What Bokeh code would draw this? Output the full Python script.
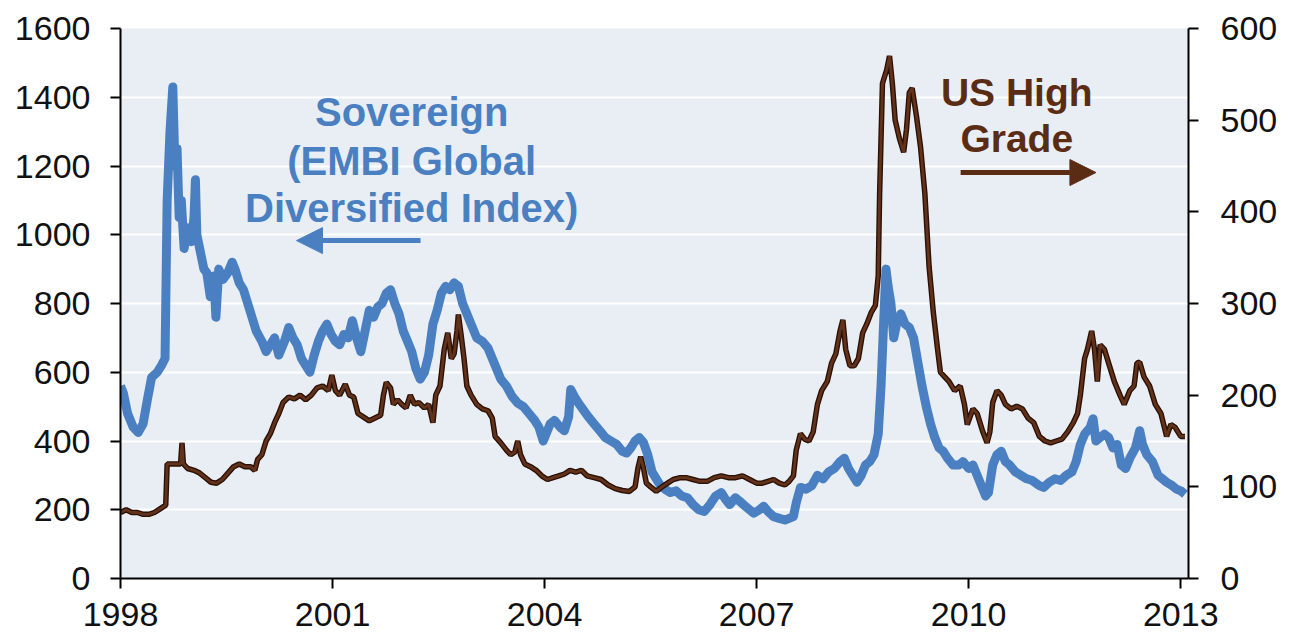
from bokeh.plotting import figure
from bokeh.models import Range1d, LinearAxis, FixedTicker, Label, Arrow, NormalHead, ColumnDataSource
from bokeh.embed import file_html
from bokeh.resources import INLINE

# ---------------- data ----------------
sov_years = [1998.00, 1998.04, 1998.10, 1998.18, 1998.25, 1998.32, 1998.38, 1998.44, 1998.52, 1998.58,
             1998.63, 1998.66, 1998.70, 1998.74, 1998.77, 1998.80, 1998.83, 1998.86, 1998.90, 1998.95,
             1999.00, 1999.04, 1999.06, 1999.08, 1999.12, 1999.18, 1999.22, 1999.27, 1999.32, 1999.35,
             1999.39, 1999.45, 1999.52, 1999.58, 1999.62, 1999.68, 1999.74, 1999.80, 1999.86, 1999.92,
             2000.00, 2000.06, 2000.12, 2000.18, 2000.24, 2000.32, 2000.38, 2000.44, 2000.50, 2000.56,
             2000.62, 2000.68, 2000.74, 2000.80, 2000.86, 2000.92, 2000.98, 2001.04, 2001.10, 2001.16,
             2001.22, 2001.28, 2001.34, 2001.40, 2001.46, 2001.52, 2001.58, 2001.64, 2001.70, 2001.76,
             2001.82, 2001.88, 2001.94, 2002.00, 2002.06, 2002.12, 2002.18, 2002.24, 2002.30, 2002.36,
             2002.42, 2002.48, 2002.54, 2002.60, 2002.66, 2002.72, 2002.78, 2002.84, 2002.90, 2002.96,
             2003.04, 2003.12, 2003.20, 2003.26, 2003.32, 2003.38, 2003.46, 2003.54, 2003.62, 2003.70,
             2003.78, 2003.86, 2003.92, 2003.98, 2004.02, 2004.08, 2004.14, 2004.22, 2004.28, 2004.34,
             2004.37, 2004.42, 2004.48, 2004.55, 2004.62, 2004.70, 2004.78, 2004.86, 2004.94, 2005.02,
             2005.10, 2005.16, 2005.22, 2005.28, 2005.34, 2005.40, 2005.46, 2005.52, 2005.58, 2005.64,
             2005.70, 2005.78, 2005.86, 2005.94, 2006.02, 2006.10, 2006.18, 2006.26, 2006.34, 2006.42,
             2006.50, 2006.56, 2006.62, 2006.70, 2006.76, 2006.84, 2006.90, 2006.96, 2007.04, 2007.10,
             2007.16, 2007.24, 2007.32, 2007.40, 2007.46, 2007.52, 2007.56, 2007.62, 2007.70, 2007.78,
             2007.86, 2007.94, 2008.02, 2008.10, 2008.18, 2008.24, 2008.30, 2008.36, 2008.42, 2008.48,
             2008.54, 2008.60, 2008.66, 2008.72, 2008.76, 2008.80, 2008.83, 2008.86, 2008.90, 2008.94,
             2008.98, 2009.04, 2009.10, 2009.16, 2009.22, 2009.28, 2009.34, 2009.40, 2009.46, 2009.52,
             2009.58, 2009.64, 2009.70, 2009.78, 2009.86, 2009.92, 2010.00, 2010.06, 2010.12, 2010.18,
             2010.24, 2010.28, 2010.34, 2010.40, 2010.46, 2010.52, 2010.58, 2010.66, 2010.74, 2010.82,
             2010.90, 2011.00, 2011.06, 2011.14, 2011.22, 2011.30, 2011.38, 2011.46, 2011.52, 2011.58,
             2011.64, 2011.72, 2011.76, 2011.80, 2011.86, 2011.92, 2011.98, 2012.04, 2012.10, 2012.16,
             2012.22, 2012.28, 2012.36, 2012.42, 2012.46, 2012.52, 2012.60, 2012.68, 2012.74, 2012.80,
             2012.88, 2012.94, 2013.00, 2013.06]
sov_spread = [560, 540, 480, 440, 425, 450, 520, 585, 600, 620,
              640, 1100, 1300, 1430, 1200, 1250, 1050, 1100, 960, 1020,
              980, 1050, 1160, 1000, 960, 900, 890, 820, 880, 760,
              900, 870, 890, 920, 900, 860, 840, 800, 760, 720,
              690, 660, 680, 700, 650, 690, 730, 700, 680, 640,
              620, 600, 650, 690, 720, 740, 710, 690, 680, 710,
              700, 750, 700, 660, 720, 780, 760, 790, 800, 830,
              840, 800, 770, 720, 690, 660, 610, 580, 600, 650,
              740, 780, 830, 850, 840, 860, 850, 800, 770, 740,
              700, 690, 670, 640, 610, 580, 560, 530, 510, 500,
              480, 460, 440, 400, 420, 450, 460, 440, 430, 470,
              550, 530, 510, 490, 470, 450, 430, 410, 400, 390,
              370, 365, 380, 400, 410, 395, 360, 310, 290, 270,
              260, 250, 255, 240, 235, 215, 200, 195, 215, 240,
              250, 230, 215, 235, 225, 210, 200, 190, 200, 210,
              195, 180, 175, 170, 175, 180, 220, 265, 260, 270,
              300, 290, 310, 320, 340, 350, 320, 300, 280, 300,
              330, 340, 360, 420, 560, 760, 900, 850, 800, 700,
              740, 770, 740, 730, 700, 630, 560, 500, 450, 410,
              380, 370, 350, 330, 330, 340, 320, 330, 300, 270,
              240, 250, 330, 360, 370, 340, 330, 310, 300, 290,
              285, 270, 265, 280, 290, 285, 300, 310, 340, 390,
              420, 440, 465, 400, 410, 420, 410, 380, 390, 330,
              320, 350, 380, 430, 390, 360, 340, 300, 290, 280,
              270, 260, 255, 245]

hg_years = [1998.00, 1998.08, 1998.16, 1998.24, 1998.32, 1998.40, 1998.48, 1998.56, 1998.64, 1998.66,
            1998.74, 1998.82, 1998.85, 1998.87, 1998.89, 1998.95, 1999.04, 1999.12, 1999.20, 1999.28,
            1999.36, 1999.44, 1999.52, 1999.60, 1999.68, 1999.76, 1999.84, 1999.90, 1999.94, 2000.00,
            2000.06, 2000.12, 2000.18, 2000.24, 2000.30, 2000.38, 2000.46, 2000.54, 2000.62, 2000.70,
            2000.78, 2000.86, 2000.94, 2000.99, 2001.04, 2001.10, 2001.18, 2001.24, 2001.30, 2001.36,
            2001.44, 2001.52, 2001.60, 2001.68, 2001.72, 2001.76, 2001.82, 2001.86, 2001.92, 2001.98,
            2002.04, 2002.10, 2002.16, 2002.22, 2002.30, 2002.36, 2002.42, 2002.46, 2002.52, 2002.58,
            2002.63, 2002.68, 2002.72, 2002.76, 2002.78, 2002.82, 2002.86, 2002.90, 2002.96, 2003.04,
            2003.12, 2003.20, 2003.26, 2003.30, 2003.38, 2003.46, 2003.52, 2003.58, 2003.62, 2003.66,
            2003.72, 2003.80, 2003.88, 2003.96, 2004.04, 2004.12, 2004.20, 2004.28, 2004.36, 2004.44,
            2004.52, 2004.60, 2004.70, 2004.80, 2004.90, 2005.00, 2005.10, 2005.20, 2005.28, 2005.32,
            2005.36, 2005.40, 2005.44, 2005.50, 2005.58, 2005.66, 2005.74, 2005.82, 2005.92, 2006.00,
            2006.10, 2006.20, 2006.30, 2006.40, 2006.50, 2006.60, 2006.70, 2006.80, 2006.90, 2007.00,
            2007.08, 2007.16, 2007.24, 2007.32, 2007.40, 2007.46, 2007.52, 2007.56, 2007.62, 2007.68,
            2007.74, 2007.80, 2007.86, 2007.92, 2008.00, 2008.06, 2008.12, 2008.18, 2008.22, 2008.26,
            2008.32, 2008.38, 2008.44, 2008.50, 2008.56, 2008.62, 2008.68, 2008.72, 2008.74, 2008.78,
            2008.84, 2008.88, 2008.92, 2008.96, 2009.02, 2009.08, 2009.12, 2009.16, 2009.20, 2009.26,
            2009.32, 2009.38, 2009.44, 2009.50, 2009.56, 2009.60, 2009.66, 2009.72, 2009.80, 2009.88,
            2009.94, 2009.98, 2010.06, 2010.12, 2010.20, 2010.26, 2010.30, 2010.34, 2010.40, 2010.46,
            2010.52, 2010.60, 2010.68, 2010.76, 2010.84, 2010.92, 2011.00, 2011.08, 2011.16, 2011.24,
            2011.32, 2011.40, 2011.48, 2011.54, 2011.58, 2011.64, 2011.68, 2011.74, 2011.78, 2011.82,
            2011.86, 2011.92, 2011.98, 2012.06, 2012.14, 2012.20, 2012.28, 2012.34, 2012.38, 2012.42,
            2012.48, 2012.56, 2012.64, 2012.72, 2012.80, 2012.86, 2012.92, 2013.00, 2013.06]
hg_spread = [72, 75, 72, 72, 70, 70, 72, 76, 80, 125,
             125, 125, 125, 148, 125, 120, 118, 115, 110, 105,
             104, 108, 115, 122, 125, 122, 122, 118, 130, 135,
             150, 158, 170, 180, 192, 198, 196, 200, 195, 200,
             208, 210, 205, 222, 205, 200, 212, 200, 198, 180,
             176, 172, 175, 178, 200, 214, 208, 190, 195, 190,
             186, 200, 190, 192, 186, 190, 170, 200, 210, 250,
             268, 240, 245, 270, 288, 265, 240, 210, 200, 190,
             185, 183, 175, 155, 148, 140, 135, 138, 150, 135,
             125, 122, 118, 112, 108, 110, 112, 114, 118, 116,
             118, 112, 110, 108, 102, 98, 96, 95, 100, 120,
             133, 120, 104, 100, 95, 100, 104, 108, 110, 110,
             108, 106, 106, 110, 112, 110, 110, 112, 108, 104,
             104, 106, 108, 104, 102, 106, 112, 140, 158, 152,
             150, 160, 190, 205, 215, 235, 245, 270, 282, 250,
             232, 232, 240, 268, 278, 290, 298, 330, 420, 540,
             555, 570, 540, 500, 480, 465, 490, 530, 535, 505,
             470, 420, 340, 290, 250, 225, 220, 215, 205, 210,
             190, 168, 185, 180, 160, 148, 160, 192, 205, 200,
             190, 185, 188, 185, 175, 170, 155, 150, 148, 150,
             152, 160, 170, 180, 200, 240, 250, 270, 250, 215,
             255, 250, 235, 215, 200, 190, 205, 210, 235, 236,
             220, 210, 190, 180, 155, 168, 165, 155, 155]

x_ticks = [1998, 2001, 2004, 2007, 2010, 2013]
left_ticks = [0, 200, 400, 600, 800, 1000, 1200, 1400, 1600]
right_ticks = [0, 100, 200, 300, 400, 500, 600]

# ---------------- styling ----------------
BLUE = "#4a80c1"
BROWN = "#5b2c14"
FONT = "Liberation Sans"

p = figure(frame_width=1068, frame_height=550, output_backend="svg", toolbar_location=None,
           x_range=Range1d(1998, 2013.11), y_range=Range1d(0, 1600),
           min_border_left=120, min_border_right=106, min_border_top=28, min_border_bottom=63)
p.extra_y_ranges = {"right": Range1d(0, 600)}
p.background_fill_color = "#e9eef5"
p.border_fill_color = "white"
p.outline_line_color = None

p.xgrid.visible = False
p.ygrid.ticker = FixedTicker(ticks=left_ticks)
p.ygrid.grid_line_color = "white"
p.ygrid.grid_line_width = 2


def style_axis(ax, standoff):
    ax.axis_line_color = "black"
    ax.axis_line_width = 2
    ax.major_tick_line_color = "black"
    ax.major_tick_line_width = 2
    ax.major_tick_out = 10
    ax.major_tick_in = 0
    ax.minor_tick_line_color = None
    ax.major_label_text_font = FONT
    ax.major_label_text_font_size = "34px"
    ax.major_label_text_color = "#111111"
    ax.major_label_standoff = standoff


p.xaxis.ticker = FixedTicker(ticks=x_ticks)
style_axis(p.xaxis[0], 14)
p.yaxis.ticker = FixedTicker(ticks=left_ticks)
style_axis(p.yaxis[0], 20)

right_axis = LinearAxis(y_range_name="right", ticker=FixedTicker(ticks=right_ticks))
style_axis(right_axis, 22)
p.add_layout(right_axis, "right")

sov_src = ColumnDataSource(dict(x=sov_years, y=sov_spread))
hg_src = ColumnDataSource(dict(x=hg_years, y=hg_spread))

p.line("x", "y", source=sov_src, line_color=BLUE, line_width=9, line_join="round")
p.line("x", "y", source=hg_src, y_range_name="right", line_color="#2a1005", line_width=5.5)
p.line("x", "y", source=hg_src, y_range_name="right", line_color="#62321a", line_width=2.8)

# ---------------- annotations ----------------
for txt, yy in [("Sovereign", 1356), ("(EMBI Global", 1216), ("Diversified Index)", 1079)]:
    p.add_layout(Label(x=2002.12, y=yy, text=txt, text_align="center", text_baseline="alphabetic",
                       text_font=FONT, text_font_style="bold", text_font_size="40px", text_color=BLUE))
for txt, yy in [("US High", 1414), ("Grade", 1280)]:
    p.add_layout(Label(x=2010.68, y=yy, text=txt, text_align="center", text_baseline="alphabetic",
                       text_font=FONT, text_font_style="bold", text_font_size="39px", text_color=BROWN))

p.add_layout(Arrow(end=NormalHead(size=26, fill_color=BLUE, line_color=BLUE),
                   x_start=2002.245, y_start=983, x_end=2000.49, y_end=983,
                   line_color=BLUE, line_width=5))
p.add_layout(Arrow(end=NormalHead(size=26, fill_color=BROWN, line_color=BROWN),
                   x_start=2009.886, y_start=1181, x_end=2011.80, y_end=1181,
                   line_color=BROWN, line_width=5))

open("out.html", "w").write(file_html(p, INLINE))
